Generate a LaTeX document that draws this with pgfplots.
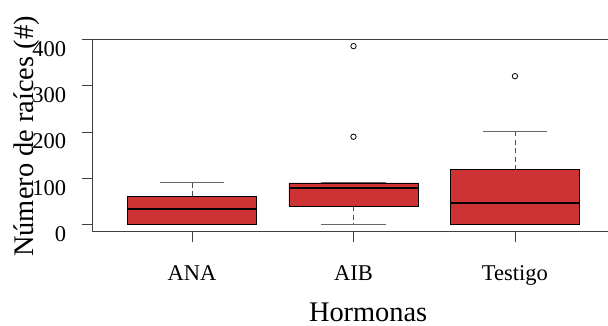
\documentclass[border=0pt]{standalone}
\usepackage{fontspec}
\setmainfont{Liberation Serif}
\usepackage{pgfplots}
\pgfplotsset{compat=1.18}
\definecolor{boxred}{HTML}{CD3333}
\definecolor{framegray}{HTML}{404040}
\begin{document}
\begin{tikzpicture}
\useasboundingbox (0bp,0bp) rectangle (608bp,326bp);
\begin{axis}[
  at={(92bp,94.3bp)}, anchor=south west,
  scale only axis, width=523bp, height=192.7bp,
  xmin=0.38, xmax=3.62, ymin=-15.4, ymax=401.4,
  xtick={1,2,3}, xticklabels={ANA,AIB,Testigo},
  ytick={0,100,200,300,400},
  tick pos=left, tick align=outside, major tick length=10bp,
  axis line style={framegray, line width=0.8bp},
  every tick/.style={framegray, line width=0.8bp},
  /pgf/number format/assume math mode=true,
  xticklabel style={font=\fontsize{22.6}{26}\selectfont, inner sep=0pt, anchor=base, yshift=-39bp},
  yticklabel style={font=\fontsize{22.6}{26}\selectfont, inner sep=0pt, anchor=east, xshift=-15.7bp, yshift=-9.5bp},
  xlabel={Hormonas}, ylabel={Número de raíces (\#)},
  every axis x label/.style={at={(axis description cs:0.528,0)}, anchor=base, yshift=-90bp,
    font=\fontsize{28.5}{32}\selectfont, inner sep=0pt},
  every axis y label/.style={at={(axis description cs:-0.1119,0.494)}, rotate=90, anchor=base,
    font=\fontsize{28.5}{32}\selectfont, inner sep=0pt},
  whisk/.style={draw=black!70, line width=0.8bp, dash pattern=on 5bp off 3.5bp},
  staple/.style={draw=black!60, line width=0.8bp},
  box/.style={draw=black, fill=boxred, line width=0.8bp, line join=miter},
  med/.style={draw=black, line width=2.4bp},
]
% ---- ANA (1): lw=0, q1=0, med=34, q3=61, uw=91.5
\addplot[whisk] coordinates {(1,61) (1,91.5)};
\addplot[staple] coordinates {(0.8,91.5) (1.2,91.5)};
\addplot[staple] coordinates {(0.8,0) (1.2,0)};
\addplot[box] coordinates {(0.6,0) (1.4,0) (1.4,61) (0.6,61) (0.6,0)};
\addplot[med] coordinates {(0.6,34) (1.4,34)};
% ---- AIB (2): lw=1, q1=40, med=79, q3=90, uw=91.5
\addplot[whisk] coordinates {(2,40) (2,1)};
\addplot[staple] coordinates {(1.8,91.5) (2.2,91.5)};
\addplot[staple] coordinates {(1.8,1) (2.2,1)};
\addplot[box] coordinates {(1.6,40) (2.4,40) (2.4,90) (1.6,90) (1.6,40)};
\addplot[med] coordinates {(1.6,79) (2.4,79)};
% ---- Testigo (3): lw=0, q1=0, med=47, q3=120, uw=202
\addplot[whisk] coordinates {(3,202) (3,120)};
\addplot[staple] coordinates {(2.8,202) (3.2,202)};
\addplot[staple] coordinates {(2.8,0) (3.2,0)};
\addplot[box] coordinates {(2.6,0) (3.4,0) (3.4,120) (2.6,120) (2.6,0)};
\addplot[med] coordinates {(2.6,47) (3.4,47)};
% ---- outliers
\addplot[only marks, mark=o, mark size=2.7bp, black, mark options={line width=0.8bp}]
  coordinates {(2,190) (2,386) (3,321)};
\end{axis}
\end{tikzpicture}
\end{document}
